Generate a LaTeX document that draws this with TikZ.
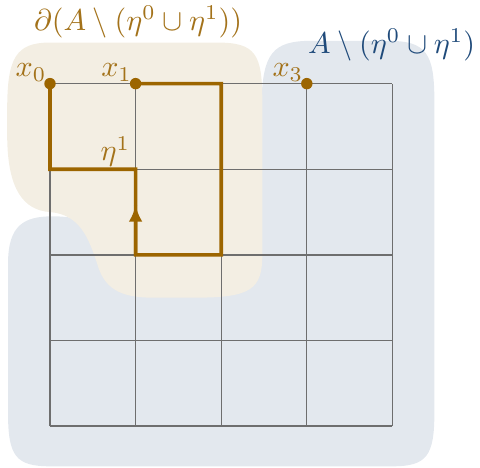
\documentclass[tikz,border=0pt]{standalone}
\usepackage{amsmath,amssymb}
\usetikzlibrary{arrows.meta, positioning, calc}
\definecolor{ochre}{HTML}{9C6500}
\definecolor{ltochre}{HTML}{A3721A}
\definecolor{sand}{HTML}{F3EEE3}
\definecolor{mist}{HTML}{E3E8EE}
\definecolor{navy}{HTML}{1F4A7A}
\definecolor{gridgray}{HTML}{6E6E6E}

\begin{document}
\begin{tikzpicture}[
  gridline/.style={draw=gridgray, line width=0.45pt},
  walk/.style={draw=ochre, line width=1.2pt, line join=miter},
  dot/.style={circle, fill=ochre, inner sep=0pt, minimum size=3.8pt},
  ptlbl/.style={text=ltochre, inner sep=0.6pt, anchor=south east},
  setlbl/.style={text=#1},
]

\useasboundingbox (-0.584,-0.479) rectangle (5.023,4.977);

% =============================================
% Regions
% =============================================
% A minus (eta^0 u eta^1)
\fill[mist] (2.47,3.8) .. controls (2.49,4.35) and (2.6,4.5) .. (3.05,4.5)
  -- (3.95,4.5) .. controls (4.4,4.5) and (4.49,4.35) .. (4.49,3.8)
  -- (4.49,0.15) .. controls (4.49,-0.35) and (4.4,-0.47) .. (4.0,-0.47)
  -- (0,-0.47) .. controls (-0.4,-0.47) and (-0.49,-0.35) .. (-0.49,0.15)
  -- (-0.49,1.9) .. controls (-0.49,2.35) and (-0.3,2.45) .. (0.03,2.45)
  .. controls (0.3,2.45) and (0.45,2.4) .. (0.7,2.2)
  -- (2.47,2.2) -- cycle;

% its boundary
\fill[sand] (-0.5,3.4) .. controls (-0.5,2.75) and (-0.3,2.52) .. (0,2.5)
  .. controls (0.35,2.47) and (0.45,2.2) .. (0.55,1.9)
  .. controls (0.63,1.62) and (0.8,1.5) .. (1.2,1.5)
  -- (1.7,1.5) .. controls (2.35,1.5) and (2.48,1.6) .. (2.48,2.0)
  -- (2.48,3.8) .. controls (2.48,4.35) and (2.4,4.48) .. (1.95,4.48)
  -- (0,4.48) .. controls (-0.4,4.48) and (-0.5,4.3) .. (-0.5,3.7) -- cycle;

% =============================================
% Grid
% =============================================
\draw[gridline] (0,0) grid (4,4);

% =============================================
% Walk eta^1 from x1 back to x0
% =============================================
\coordinate (c1) at (2,4);
\coordinate (c2) at (2,2);
\coordinate (c3) at (1,2);
\coordinate (c4) at (1,3);
\coordinate (c5) at (0,3);
\coordinate (mid) at ($(c3)!0.58!(c4)$);

\node[dot] (x0) at (0,4) {};
\node[dot] (x1) at (1,4) {};
\node[dot] (x3) at (3,4) {};

\draw[walk] (x1.center) -- (c1) -- (c2) -- (c3) -- (mid);
\draw[walk, -{Latex[length=5.5pt, width=4.6pt]}] (c3) -- (mid);
\draw[walk] (mid) -- (c4) -- (c5) -- (x0.center);

\node[ptlbl] (lx0) at ([xshift=-0.4pt]x0.center) {$x_0$};
\node[ptlbl] (lx1) at ([xshift=-0.4pt]x1.center) {$x_1$};
\node[ptlbl] (lx3) at ([xshift=-0.4pt]x3.center) {$x_3$};
\node[ptlbl] (eta) at ([xshift=-1pt]c4) {$\eta^1$};

% =============================================
% Set labels
% =============================================
\node[setlbl=ltochre] (bd) at (1.03,4.72)
  {$\partial(A\setminus(\eta^0\cup\eta^1))$};
\node[setlbl=navy] (rest) at (3.99,4.45)
  {$A\setminus(\eta^0\cup\eta^1)$};

\end{tikzpicture}
\end{document}
